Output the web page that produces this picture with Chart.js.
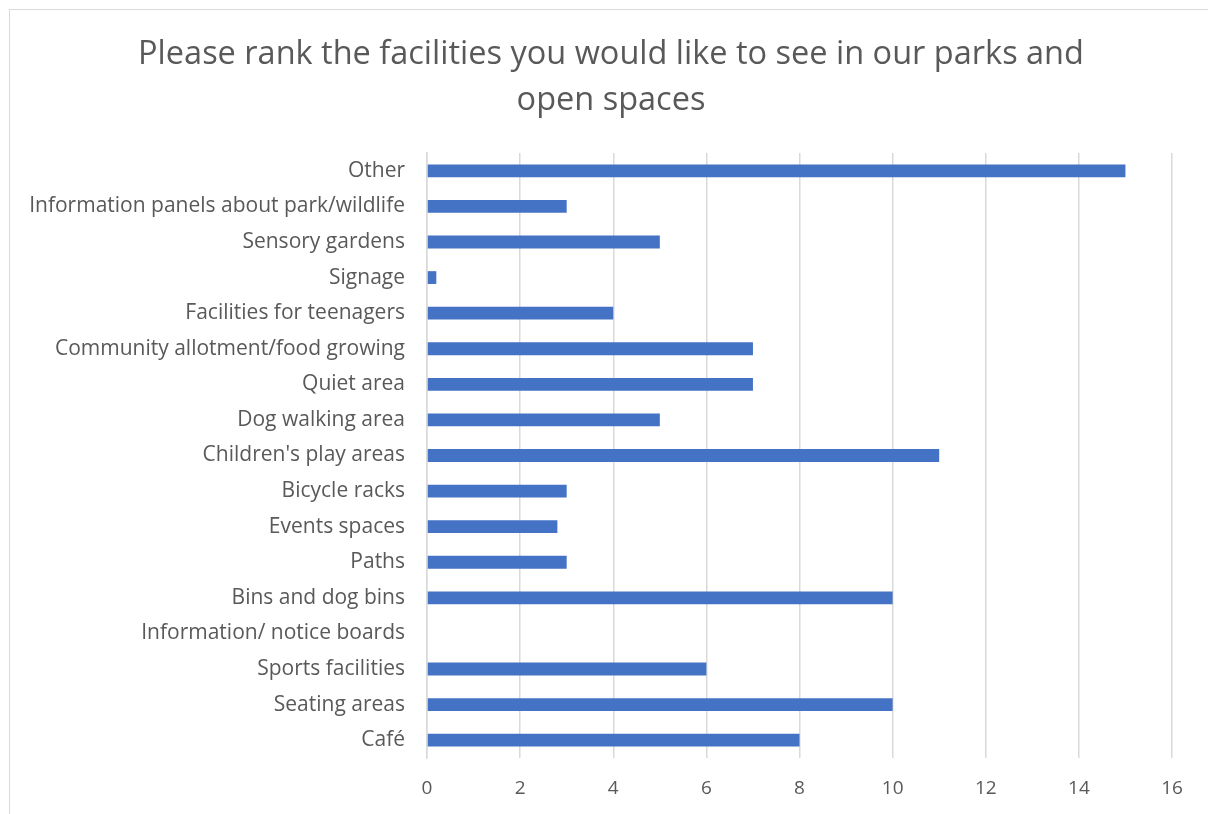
<!DOCTYPE html>
<html>
<head>
<meta charset="utf-8">
<script src="https://cdn.jsdelivr.net/npm/chart.js@4"></script>
<style>
  html, body { margin: 0; padding: 0; overflow: hidden; background: #fff; }
  #wrap { position: relative; width: 1208px; height: 814px; }
  #frame { position: absolute; left: 9px; top: 9px; width: 1400px; height: 1000px; border: 1px solid #d9d9d9; box-sizing: border-box; pointer-events: none; }
  canvas { position: absolute; left: 0; top: 0; }
</style>
</head>
<body>
<div id="wrap">
  <canvas id="c" width="1208" height="814"></canvas>
  <div id="frame"></div>
</div>
<script>
const titleLines = ["Please rank the facilities you would like to see in our parks and", "open spaces"];
const categories = [
  "Other",
  "Information panels about park/wildlife",
  "Sensory gardens",
  "Signage",
  "Facilities for teenagers",
  "Community allotment/food growing",
  "Quiet area",
  "Dog walking area",
  "Children's play areas",
  "Bicycle racks",
  "Events spaces",
  "Paths",
  "Bins and dog bins",
  "Information/ notice boards",
  "Sports facilities",
  "Seating areas",
  "Café"
];
const values = [15, 3, 5, 0.2, 4, 7, 7, 5, 11, 3, 2.8, 3, 10, 0, 6, 10, 8];
const xTicks = [0, 2, 4, 6, 8, 10, 12, 14, 16];

const FONT = "'Open Sans', 'Noto Sans', sans-serif";
const TEXT = "#595959";
const GRID = "#d9d9d9";

// Centre the title over the whole chart frame rather than the canvas box
const titleShift = {
  id: 'titleShift',
  afterLayout(chart) {
    const t = chart.titleBlock;
    if (t) { t.left = 50; t.width = t.right - t.left; }
  }
};

new Chart(document.getElementById('c'), {
  type: 'bar',
  data: {
    labels: categories,
    datasets: [{
      data: values,
      backgroundColor: '#4472C4',
      borderWidth: 0,
      categoryPercentage: 1,
      barPercentage: 0.36
    }]
  },
  plugins: [titleShift],
  options: {
    indexAxis: 'y',
    responsive: false,
    animation: false,
    layout: { padding: { left: 0, right: 36, top: 0, bottom: 0 } },
    plugins: {
      legend: { display: false },
      tooltip: { enabled: false },
      title: {
        display: true,
        text: titleLines,
        color: TEXT,
        font: { family: FONT, size: 32.5, weight: 'normal', lineHeight: 46 / 32.5 },
        padding: { top: 32, bottom: 29 }
      }
    },
    scales: {
      x: {
        min: 0, max: 16,
        afterBuildTicks: (axis) => { axis.ticks = xTicks.map(v => ({ value: v })); },
        afterFit: (axis) => { axis.height = 56; },
        grid: { color: GRID, lineWidth: 1.5, drawTicks: false },
        border: { display: false },
        ticks: { color: TEXT, font: { family: FONT, size: 19 }, padding: 19 }
      },
      y: {
        afterFit: (axis) => { axis.width = 427; },
        grid: { display: false, drawTicks: false },
        border: { display: true, color: GRID, width: 1.5 },
        ticks: { color: TEXT, font: { family: FONT, size: 21 }, padding: 22, autoSkip: false }
      }
    }
  }
});
</script>
</body>
</html>
